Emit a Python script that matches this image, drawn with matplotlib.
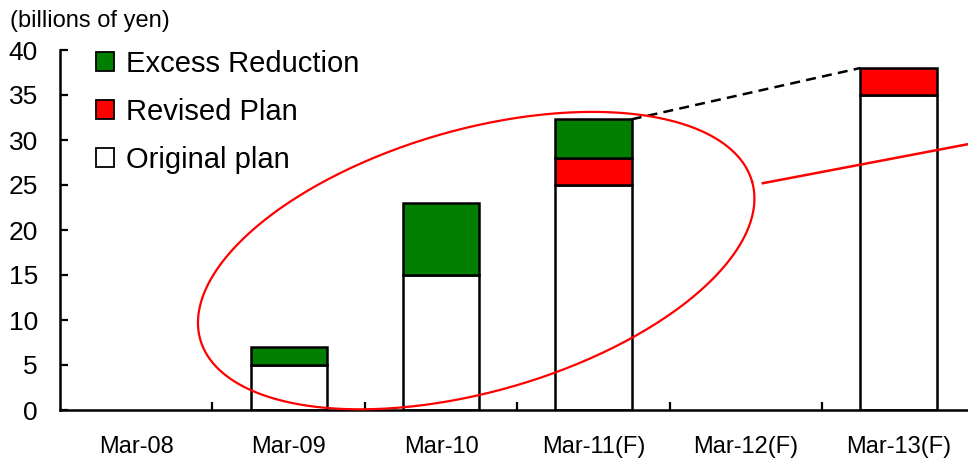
import numpy as np
import matplotlib.pyplot as plt
from matplotlib.patches import Patch

plt.rcParams['font.family'] = ['Liberation Sans', 'DejaVu Sans']

# fiscal year-end periods, (F) = forecast
periods = ['Mar-08', 'Mar-09', 'Mar-10', 'Mar-11(F)', 'Mar-12(F)', 'Mar-13(F)']
# cost reduction, billions of yen
original_plan = [0, 5, 15, 25, 0, 35]
revised_plan = [0, 0, 0, 3, 0, 3]
excess_reduction = [0, 2, 8, 4.3, 0, 0]

green = '#007f00'
red = '#ff0000'

fig = plt.figure(figsize=(9.68, 4.59), dpi=100)
ax = fig.add_axes([60 / 968, 1 - 410 / 459, 908 / 968, 360 / 459])

x = np.arange(len(periods))
orig = np.array(original_plan, dtype=float)
rev = np.array(revised_plan, dtype=float)
exc = np.array(excess_reduction, dtype=float)

bar_kw = dict(width=0.5, edgecolor='black', linewidth=1.8, zorder=3)
m = orig > 0
ax.bar(x[m], orig[m], color='white', **bar_kw)
m = rev > 0
ax.bar(x[m], rev[m], bottom=orig[m], color=red, **bar_kw)
m = exc > 0
ax.bar(x[m], exc[m], bottom=(orig + rev)[m], color=green, **bar_kw)

ax.set_xlim(-0.5, 5.456)
ax.set_ylim(0, 40)

# axes styling
for s in ['top', 'right']:
    ax.spines[s].set_visible(False)
for s in ['left', 'bottom']:
    ax.spines[s].set_linewidth(1.8)
    ax.spines[s].set_zorder(4)

ax.set_yticks(range(0, 41, 5))
ax.tick_params(axis='y', direction='in', length=6, width=1.6, pad=16, labelsize=19)
ax.set_xticks(x)
ax.set_xticklabels(periods)
ax.set_xticks(np.arange(0.5, 5, 1), minor=True)
ax.tick_params(axis='x', which='major', length=0, pad=19, labelsize=17)
ax.tick_params(axis='x', which='minor', direction='in', length=6, width=1.6)

# dashed link from Mar-11 top to Mar-13 top
tot = orig + rev + exc
ax.plot([x[3] + 0.25, x[5] - 0.25], [tot[3], tot[5]], color='black',
        linestyle=(0, (4, 2.5)), linewidth=1.8, zorder=5)

# red ellipse around the actual results, drawn in pixel space
fig.canvas.draw()
sx = ax.bbox.width / (ax.get_xlim()[1] - ax.get_xlim()[0])
sy = ax.bbox.height / (ax.get_ylim()[1] - ax.get_ylim()[0])
cx, cy = 2.23, 16.6
a, b, theta = 287, 131, np.radians(16)
t = np.linspace(0, 2 * np.pi, 400)
ex = cx + (a * np.cos(t) * np.cos(theta) - b * np.sin(t) * np.sin(theta)) / sx
ey = cy + (a * np.cos(t) * np.sin(theta) + b * np.sin(t) * np.cos(theta)) / sy
ax.plot(ex, ey, color=red, linewidth=1.6, zorder=6, clip_on=False)

# red pointer line to the right
ax.plot([4.11, 5.6], [25.2, 30.0], color=red, linewidth=1.8, zorder=6)

handles = [Patch(facecolor=green, edgecolor='black', linewidth=1.3),
           Patch(facecolor=red, edgecolor='black', linewidth=1.3),
           Patch(facecolor='white', edgecolor='black', linewidth=1.3)]
fig.legend(handles, ['Excess Reduction', 'Revised Plan', 'Original plan'],
           loc='upper left', bbox_to_anchor=(96 / 968, 1 - 50 / 459),
           frameon=False, fontsize=21, handlelength=0.62, handleheight=0.62,
           handletextpad=0.4, labelspacing=0.68, borderpad=0, borderaxespad=0)

fig.text(10 / 968, 1 - 27 / 459, '(billions of yen)', fontsize=17, va='baseline')

fig.savefig('out.png', dpi=100)
